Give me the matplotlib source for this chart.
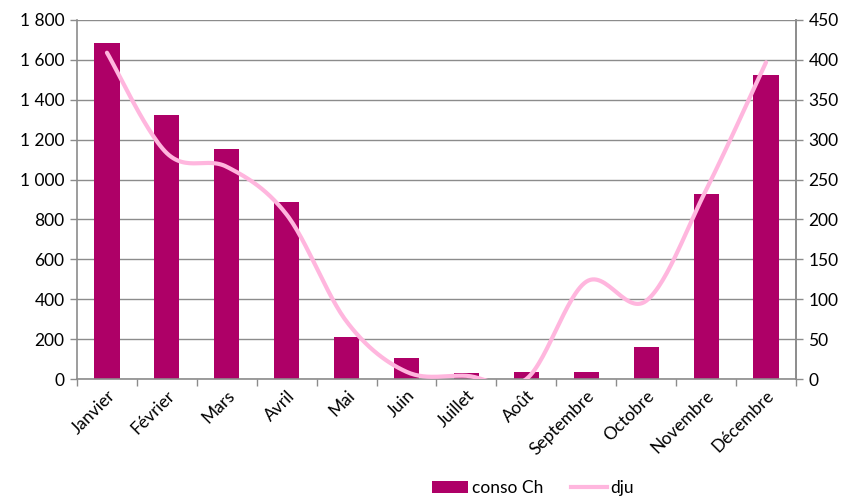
import numpy as np
import matplotlib
matplotlib.use("Agg")
import matplotlib.pyplot as plt
from matplotlib.ticker import FuncFormatter, MultipleLocator
from matplotlib.patches import Patch
from matplotlib.lines import Line2D

months = ["Janvier", "Février", "Mars", "Avril", "Mai", "Juin", "Juillet",
          "Août", "Septembre", "Octobre", "Novembre", "Décembre"]
conso_ch = [1685, 1324, 1153, 887, 211, 107, 32, 37, 37, 160, 928, 1524]
dju = [409, 283, 266, 206, 72, 9, 4, 0, 122, 98, 237, 397]

bar_color = "#AE0067"
line_color = "#FFB6DE"
grid_color = "#8C8C8C"

plt.rcParams['font.family'] = ['Lato', 'DejaVu Sans']

def smooth(xs, ys, n=30):
    # Excel-like smoothed line (Catmull-Rom Bezier)
    xs = np.asarray(xs, float); ys = np.asarray(ys, float)
    P = np.column_stack([xs, ys])
    out = []
    for i in range(len(P) - 1):
        p0 = P[i - 1] if i > 0 else P[i]
        p1 = P[i]; p2 = P[i + 1]
        p3 = P[i + 2] if i + 2 < len(P) else P[i + 1]
        c1 = p1 + (p2 - p0) / 6.0
        c2 = p2 - (p3 - p1) / 6.0
        t = np.linspace(0, 1, n)[:, None]
        seg = ((1 - t) ** 3) * p1 + 3 * ((1 - t) ** 2) * t * c1 + 3 * (1 - t) * t ** 2 * c2 + t ** 3 * p2
        out.append(seg if i == 0 else seg[1:])
    S = np.vstack(out)
    return S[:, 0], S[:, 1]

fig = plt.figure(figsize=(8.5, 4.99), dpi=100)
ax = fig.add_axes([77 / 850, 1 - 379 / 499, (796 - 77) / 850, (379 - 20) / 499])
x = np.arange(len(months))
ax.bar(x, conso_ch, width=0.42, color=bar_color, zorder=2)
ax.set_xlim(-0.5, 11.5)
ax.set_ylim(0, 1800)
ax.yaxis.set_major_locator(MultipleLocator(200))
ax.yaxis.set_major_formatter(FuncFormatter(lambda v, p: f"{int(v):,}".replace(",", " ")))
ax.grid(axis='y', color=grid_color, linewidth=1.0, zorder=0)
ax.set_axisbelow(True)

ax.set_xticks(np.arange(-0.5, 12, 1), minor=False)
ax.set_xticklabels([])
ax.set_xticks(x, minor=True)
ax.set_xticklabels(months, minor=True, rotation=45, ha='right', rotation_mode='anchor', fontsize=12.5)
ax.tick_params(axis='x', which='minor', length=0, pad=6)
ax.tick_params(axis='x', which='major', length=5, color=grid_color, width=1)
ax.tick_params(axis='y', length=5, color=grid_color, width=1, labelsize=12.5, pad=4)

for s in ['top']:
    ax.spines[s].set_visible(False)
for s in ['left', 'right', 'bottom']:
    ax.spines[s].set_color(grid_color)
    ax.spines[s].set_linewidth(1.2)

ax2 = ax.twinx()
ax2.set_ylim(0, 450)
ax2.yaxis.set_major_locator(MultipleLocator(50))
sx, sy = smooth(x, dju)
ax2.plot(sx, sy, color=line_color, linewidth=3, solid_capstyle='round', zorder=3)
ax2.tick_params(axis='y', length=5, color=grid_color, width=1, labelsize=12.5, pad=4)
for s in ['top', 'left', 'bottom']:
    ax2.spines[s].set_visible(False)
ax2.spines['right'].set_color(grid_color)
ax2.spines['right'].set_linewidth(1.2)

handles = [Patch(facecolor=bar_color, edgecolor='none', label='conso Ch'),
           Line2D([0], [0], color=line_color, linewidth=3, label='dju')]
fig.legend(handles=handles, loc='center', bbox_to_anchor=(533 / 850, 1 - 488 / 499),
           ncol=2, frameon=False, fontsize=12.5, handlelength=2.1, handleheight=0.7,
           columnspacing=1.6, handletextpad=0.2)

fig.savefig("out.png", dpi=100)
